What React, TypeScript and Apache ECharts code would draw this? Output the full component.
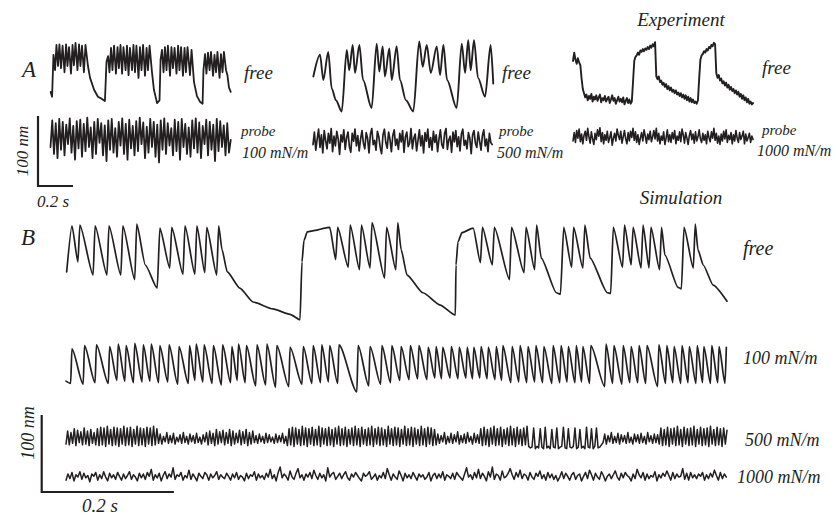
import { useEffect, useRef } from "react";
import * as echarts from "echarts";

const INK = "#231f20";
const SERIF = '"Liberation Serif", "Times New Roman", serif';

// Scales of the two panels: pixels per millisecond and pixels per nanometre
const A_SCALE = { pxPerMs: 0.175, pxPerNm: 0.7 };
const B_SCALE = { pxPerMs: 0.661, pxPerNm: 0.77 };

// ---------- Panel A: experiment (time ms, displacement nm) ----------
const A_FREE_LEFT = [
  [1, 23], [9, 16], [17, 76], [26, 54], [34, 90], [43, 60], [51, 91], [60, 57], [69, 89], [80, 51],
  [89, 91], [97, 60], [106, 87], [117, 49], [126, 90], [134, 61], [143, 93], [154, 54], [163, 91],
  [171, 60], [180, 89], [191, 51], [200, 90], [214, 60], [226, 43], [249, 26], [271, 16], [294, 13],
  [311, 10], [320, 66], [329, 74], [337, 51], [346, 86], [354, 54], [363, 89], [374, 49], [383, 87],
  [391, 57], [400, 90], [409, 49], [417, 87], [429, 54], [437, 89], [446, 47], [454, 86], [466, 54],
  [474, 90], [483, 51], [491, 89], [503, 43], [511, 87], [520, 54], [529, 90], [540, 46], [549, 86],
  [557, 54], [566, 89], [580, 51], [591, 26], [609, 7], [623, 11], [629, 69], [637, 83], [646, 51],
  [654, 87], [663, 54], [671, 89], [683, 46], [691, 87], [700, 57], [709, 86], [720, 49], [729, 89],
  [737, 54], [746, 87], [757, 46], [766, 86], [774, 51], [783, 87], [797, 47], [806, 83], [820, 37],
  [837, 17], [854, 9], [869, 6], [874, 54], [883, 77], [891, 49], [900, 79], [909, 54], [917, 80],
  [929, 46], [937, 76], [946, 51], [954, 80], [966, 43], [974, 77], [983, 51], [991, 80], [1003, 54],
  [1011, 47], [1020, 29], [1030, 23],
];

// probe of 100 mN/m, sampled every 10 ms
const A_PROBE_100_STEP = 10;
const A_PROBE_100 = [
  30, 68, 20, 64, 14, 70, 26, 66, 18, 62, 34, 71, 22,
  60, 12, 67, 28, 69, 16, 63, 24, 72, 30, 58, 14, 66,
  20, 70, 36, 64, 18, 61, 10, 68, 26, 70, 22, 57, 16,
  66, 32, 71, 20, 63, 12, 69, 28, 60, 18, 67, 24, 72,
  34, 65, 14, 59, 22, 70, 30, 66, 16, 62, 8, 68, 26,
  71, 20, 64, 32, 57, 18, 69, 24, 66, 12, 70, 30, 63,
  20, 58, 16, 68, 28, 71, 22, 65, 14, 60, 34, 69, 18,
  66, 26, 62, 10, 70, 24, 67, 30, 61, 18, 64, 22, 40,
];

const A_FREE_MID = [
  [2, 55], [40, 86], [59, 50], [87, 90], [107, 38], [131, 21], [164, 5], [193, 93], [207, 64],
  [227, 100], [240, 60], [265, 100], [286, 50], [335, 10], [364, 102], [379, 62], [398, 98],
  [411, 55], [436, 95], [450, 50], [478, 98], [497, 50], [531, 21], [573, 5], [607, 105], [627, 69],
  [650, 100], [673, 60], [707, 98], [726, 57], [745, 100], [766, 50], [821, 10], [850, 102],
  [869, 60], [887, 107], [901, 64], [920, 107], [943, 53], [983, 26], [1015, 100], [1030, 45],
];

// probe of 500 mN/m, sampled every 8 ms
const A_PROBE_500_STEP = 8;
const A_PROBE_500 = [
  22, 40, 14, 30, 44, 18, 36, 10, 42, 28, 16, 38, 24, 45, 12, 34,
  20, 41, 30, 8, 36, 26, 43, 15, 32, 40, 19, 11, 38, 27, 44, 20,
  35, 13, 30, 42, 24, 16, 39, 31, 10, 37, 45, 22, 28, 14, 41, 33,
  18, 9, 36, 44, 25, 17, 40, 29, 12, 35, 43, 21, 30, 15, 38, 26,
  42, 11, 33, 40, 19, 24, 45, 16, 31, 37, 13, 28, 43, 20, 35, 10,
  39, 27, 44, 18, 32, 14, 41, 25, 36, 12, 30, 43, 22, 17, 38, 45,
  15, 29, 34, 11, 40, 26, 42, 19, 33, 13, 37, 44, 21, 28, 16, 39,
  31, 9, 36, 42, 24, 18, 40, 27, 14, 35, 43, 20, 30, 12, 38, 25,
  22,
];

// free bundle on the right, sampled every 7 ms
const A_FREE_RIGHT_STEP = 7;
const A_FREE_RIGHT = [
  70, 82, 72, 66, 74, 68, 64,
  45, 30,
  24, 18, 22, 14, 20, 16, 23, 12, 19, 15, 21, 13, 18, 22, 11, 17, 14, 20, 12, 16,
  19, 10, 15, 21, 13, 17, 9, 14, 19, 12, 16, 11, 18, 8, 13, 17, 10, 15, 9, 12,
  40, 70, 76,
  78, 82, 79, 85, 83, 87, 84, 88, 86, 90, 87, 92, 89, 94, 91, 97,
  48,
  44, 48, 40, 42, 36, 39, 33, 37, 30, 34, 28, 32, 26, 29, 24, 28, 22, 25, 20, 24,
  18, 22, 16, 21, 14, 19, 12, 17, 11, 15, 10,
  12, 9, 14,
  45, 72, 78,
  80, 84, 82, 87, 85, 90, 88, 93, 91, 96, 94,
  52,
  46, 50, 42, 45, 38, 41, 35, 39, 32, 36, 29, 33, 27, 30, 24, 28, 22, 26, 19, 23,
  16, 21, 14, 18, 11, 16, 9, 12, 8, 10,
];

// probe of 1000 mN/m, sampled every 7 ms
const A_PROBE_1000_STEP = 7;
const A_PROBE_1000 = [
  10, 22, 8, 25, 14, 27, 9, 20, 6, 18, 24, 11, 28, 16, 7, 23,
  13, 5, 21, 12, 26, 17, 29, 9, 22, 6, 19, 11, 24, 8, 15, 23,
  4, 14, 21, 10, 27, 18, 12, 24, 7, 16, 25, 13, 6, 22, 10, 24,
  15, 28, 11, 23, 8, 19, 5, 14, 22, 10, 26, 17, 7, 20, 12, 24,
  9, 16, 25, 13, 28, 10, 21, 6, 17, 11, 23, 5, 14, 26, 9, 19,
  8, 22, 13, 25, 6, 17, 11, 23, 9, 27, 19, 7, 22, 14, 5, 18,
  25, 12, 20, 7, 23, 10, 16, 26, 13, 8, 21, 11, 19, 6, 24, 15,
  9, 23, 14, 28, 11, 21, 7, 17, 5, 20, 10, 24, 13, 26, 8, 18,
  12, 22, 6, 19, 10, 25, 14, 8, 22, 12, 17, 24, 6, 20, 10, 15,
  21, 8, 17, 12,
];

// ---------- Panel B: simulation (time ms, displacement nm) ----------
const B_FREE = [
  [1, 65], [9, 125], [18, 78], [21, 126], [41, 61], [44, 125], [62, 61], [65, 125], [83, 61],
  [86, 125], [104, 55], [107, 127], [120, 74], [138, 44], [142, 122], [157, 70], [160, 123],
  [177, 62], [180, 125], [195, 62], [198, 125], [210, 64], [213, 123], [228, 61], [231, 125],
  [236, 94], [244, 65], [263, 44], [283, 26], [313, 17], [339, 10], [354, 3], [357, 78], [360, 106],
  [365, 117], [377, 119], [392, 122], [399, 123], [408, 81], [411, 123], [427, 71], [430, 126],
  [444, 68], [447, 126], [460, 70], [463, 129], [482, 57], [485, 123], [499, 68], [502, 129],
  [507, 94], [516, 61], [540, 38], [566, 22], [589, 9], [590, 74], [593, 104], [599, 116],
  [616, 122], [627, 77], [630, 123], [645, 74], [648, 123], [671, 55], [674, 123], [693, 64],
  [696, 123], [709, 68], [712, 126], [719, 83], [742, 38], [748, 36], [753, 123], [765, 71],
  [768, 123], [782, 70], [785, 126], [793, 83], [819, 38], [824, 37], [828, 123], [842, 71],
  [845, 126], [855, 74], [858, 123], [870, 70], [873, 126], [882, 70], [885, 123], [898, 68],
  [901, 123], [906, 87], [926, 45], [931, 43], [935, 123], [949, 70], [952, 127], [956, 94],
  [964, 74], [979, 48], [1000, 27],
];

const B_100 = [
  [0, 18], [7, 15], [9, 60], [26, 14], [28, 64], [44, 16], [46, 65], [64, 15], [66, 63], [77, 19],
  [79, 66], [89, 18], [91, 64], [102, 16], [104, 67], [115, 17], [117, 65], [127, 18], [129, 66],
  [140, 16], [142, 64], [154, 17], [156, 65], [169, 14], [171, 63], [185, 15], [187, 64], [195, 19],
  [197, 66], [207, 17], [209, 65], [221, 15], [223, 64], [235, 13], [237, 65], [249, 16], [251, 63],
  [259, 19], [261, 66], [271, 16], [273, 64], [287, 12], [289, 65], [302, 13], [304, 66], [317, 10],
  [319, 64], [337, 11], [339, 62], [357, 14], [359, 63], [372, 15], [374, 64], [385, 16], [387, 65],
  [397, 17], [399, 64], [411, 15], [413, 65], [440, 4], [442, 64], [458, 12], [460, 63], [476, 14],
  [478, 64], [491, 16], [493, 64], [505, 19], [507, 63], [519, 20], [521, 64], [532, 21], [534, 64],
  [546, 20], [548, 62], [558, 22], [560, 63], [568, 21], [570, 62], [581, 22], [583, 63], [593, 21],
  [595, 62], [605, 22], [607, 62], [615, 21], [617, 62], [626, 22], [628, 63], [637, 21], [639, 62],
  [649, 20], [651, 63], [659, 19], [661, 64], [673, 16], [675, 63], [685, 17], [687, 64], [697, 16],
  [699, 63], [709, 17], [711, 64], [721, 16], [723, 63], [735, 15], [737, 64], [747, 16], [749, 64],
  [758, 17], [760, 63], [770, 16], [772, 64], [780, 17], [782, 63], [792, 15], [794, 64], [815, 11],
  [817, 66], [827, 15], [829, 64], [841, 14], [843, 64], [853, 16], [855, 63], [865, 16], [867, 64],
  [877, 15], [879, 64], [895, 11], [897, 65], [907, 15], [909, 64], [918, 16], [920, 63], [930, 15],
  [932, 64], [941, 16], [943, 63], [953, 15], [955, 64], [963, 16], [965, 63], [975, 15], [977, 64],
  [986, 16], [988, 63], [997, 15], [999, 62],
];

// probe of 500 mN/m, sampled every 2.5 ms
const B_500_STEP = 2.5;
const B_500 = [
  9, 26, 8, 24, 10, 29, 7, 27, 11, 25, 8, 30, 9, 26, 7, 28, 10, 24, 8,
  29, 7, 31, 8, 30, 6, 32, 9, 28, 7, 31, 8, 30, 6, 29, 9, 32, 7, 30, 8, 31, 6, 28, 9, 32, 7, 30, 8, 29, 6, 31, 9, 30, 7, 32, 8, 29,
  10, 22, 9, 19, 12, 24, 10, 20, 11, 23, 9, 18, 12, 21, 10, 24, 11, 19, 9, 22, 12, 20, 10, 23, 11, 18, 9, 21, 12, 24,
  8, 26, 10, 23, 7, 28, 9, 25, 11, 27, 8, 24, 10, 28, 7, 26, 9, 23, 11, 27, 8, 25, 10, 28, 7, 24, 9, 26,
  11, 20, 10, 22, 12, 19, 10, 23, 11, 21, 12, 18, 10, 22, 11, 20, 12, 23, 10, 19,
  7, 29, 8, 31, 6, 30, 9, 28, 7, 32,
  8, 30, 6, 29, 9, 31, 7, 28, 8, 32,
  6, 30, 9, 29, 7, 31, 8, 28, 6, 30,
  9, 32, 7, 29, 8, 31, 6, 28, 9, 30,
  7, 32, 8, 29, 6, 31, 9, 28, 7, 30,
  8, 32, 6, 29, 9, 31, 7, 30, 8, 28,
  6, 32, 9, 29, 7, 31, 8, 30, 6, 28,
  9, 32, 7, 29, 8, 31, 6, 30, 9, 28,
  7, 32, 8, 29, 6, 31, 9, 30, 7, 28,
  8,
  22, 10, 20, 12, 24, 9, 19, 11, 23, 10, 21, 12, 25, 9, 20, 11, 22, 10, 24, 12, 19, 9, 23, 11, 21, 10,
  29, 7, 31, 8, 28, 6, 30, 9, 32, 7, 29, 8, 31, 6, 28, 9, 30, 7, 32, 8, 29, 6, 31, 9, 28, 7, 30, 8, 32, 6,
  4, 5, 30, 3, 6, 4, 29, 5, 3, 31, 4, 6, 3, 28, 5, 4, 30, 3, 5, 6, 31, 4, 3, 29, 5, 4, 6, 30, 3, 5,
  28, 4, 6, 3, 31, 5, 4, 29, 3, 6, 30, 4, 5, 8,
  11, 22, 9, 20, 12, 24, 10, 19, 11, 23, 9, 21, 12, 20, 10, 24, 11, 18, 9, 22, 12, 21, 10, 23, 11,
  19, 9, 24, 12, 20, 10, 22, 11, 21, 9,
  30, 7, 28, 8, 31, 6, 29, 9, 30, 7, 32, 8, 28, 6, 31, 9, 29, 7, 30, 8, 32, 6, 28, 9, 31, 7, 29, 8,
  30, 6, 32, 9, 28, 7, 31, 8, 29, 6, 30, 9, 27,
];

// probe of 1000 mN/m, sampled every 3 ms
const B_1000_STEP = 3;
const B_1000 = [
  5, 13, 7, 15, 4, 12, 9, 16, 6, 14, 8, 11, 3, 13, 10, 15, 5, 12, 7, 16,
  9, 4, 14, 8, 12, 6, 15, 10, 5, 13, 7, 11, 16, 6, 12, 9, 4, 14, 8, 13,
  6, 15, 10, 19, 5, 12, 8, 14, 4, 11, 16, 7, 13, 9, 21, 6, 12, 10, 15, 5,
  11, 8, 18, 6, 13, 9, 4, 14, 10, 7, 15, 12, 5, 13, 8, 11, 16, 6, 12, 9,
  7, 14, 10, 5, 13, 8, 15, 6, 11, 9, 4, 14, 7, 12, 10, 16, 5, 13, 8, 11,
  6, 14, 9, 19, 7, 12, 4, 15, 22, 8, 13, 10, 5, 17, 9, 6, 14, 20, 8, 12,
  5, 13, 9, 15, 7, 18, 11, 6, 14, 8, 12, 4, 21, 9, 13, 15, 6, 10, 14, 7,
  12, 16, 8, 5, 13, 9, 15, 11, 7, 4, 14, 10, 12, 16, 6, 9, 13, 5, 11, 8,
  15, 7, 20, 12, 5, 13, 9, 6, 17, 11, 4, 14, 8, 12, 7, 15, 10, 5, 13, 9,
  12, 6, 9, 15, 4, 11, 14, 7, 13, 8, 16, 5, 12, 10, 7, 14, 6, 15, 11, 8,
  5, 13, 21, 9, 12, 6, 15, 8, 19, 7, 14, 10, 4, 16, 9, 22, 6, 13, 11, 5,
  17, 8, 10, 14, 20, 12, 6, 15, 9, 18, 7, 13, 11, 5, 15, 9, 6, 14, 10, 17,
  7, 12, 5, 15, 8, 13, 6, 11, 4, 9, 16, 7, 14, 10, 5, 12, 15, 6, 11, 13,
  4, 10, 15, 7, 18, 12, 5, 14, 9, 6, 16, 11, 4, 10, 13, 7, 12, 17, 9, 5,
  14, 8, 15, 11, 9, 4, 13, 7, 19, 12, 8, 15, 5, 13, 7, 11, 9, 16, 4, 12,
  8, 14, 10, 17, 11, 5, 15, 7, 13, 9, 10, 20, 6, 14, 5, 15, 8, 12, 7, 13,
  10, 15, 5, 12, 7, 14, 9, 18, 11, 5, 15, 7, 13, 9,
];

// Scale bars
const SCALE_BAR_NM = 100;
const SCALE_BAR_MS = 200;

const sampled = (values: number[], stepMs: number) => values.map((v, i) => [i * stepMs, v]);

type Scale = { pxPerMs: number; pxPerNm: number };
type Trace = {
  data: number[][];
  scale: Scale;
  left: number;
  baseline: number;
  yMax: number;
  durationMs: number;
  lineWidth: number;
  smooth?: number;
};

const TRACES: Trace[] = [
  { data: A_FREE_LEFT, scale: A_SCALE, left: 50.5, baseline: 108, yMax: 100, durationMs: 1030, lineWidth: 1.8 },
  { data: sampled(A_PROBE_100, A_PROBE_100_STEP), scale: A_SCALE, left: 50.5, baseline: 168, yMax: 80, durationMs: 1030, lineWidth: 1.8 },
  { data: A_FREE_MID, scale: A_SCALE, left: 313, baseline: 115, yMax: 110, durationMs: 1030, lineWidth: 1.9, smooth: 0.3 },
  { data: sampled(A_PROBE_500, A_PROBE_500_STEP), scale: A_SCALE, left: 313, baseline: 160, yMax: 50, durationMs: 1030, lineWidth: 1.7 },
  { data: sampled(A_FREE_RIGHT, A_FREE_RIGHT_STEP), scale: A_SCALE, left: 573, baseline: 110, yMax: 100, durationMs: 1030, lineWidth: 1.9 },
  { data: sampled(A_PROBE_1000, A_PROBE_1000_STEP), scale: A_SCALE, left: 573, baseline: 148, yMax: 30, durationMs: 1030, lineWidth: 1.6 },
  { data: B_FREE, scale: B_SCALE, left: 66, baseline: 322, yMax: 135, durationMs: 1000, lineWidth: 1.7, smooth: 0.2 },
  { data: B_100, scale: B_SCALE, left: 66, baseline: 395, yMax: 75, durationMs: 1000, lineWidth: 1.7, smooth: 0.25 },
  { data: sampled(B_500, B_500_STEP), scale: B_SCALE, left: 66, baseline: 451, yMax: 35, durationMs: 1000, lineWidth: 1.5 },
  { data: sampled(B_1000, B_1000_STEP), scale: B_SCALE, left: 66, baseline: 484, yMax: 22, durationMs: 1000, lineWidth: 1.5 },
];

type Label = { text: string; x: number; y: number; size: number; align?: string; vertical?: boolean };

const LABELS: Label[] = [
  { text: "Experiment", x: 681, y: 19, size: 19, align: "center" },
  { text: "A", x: 29, y: 69, size: 23, align: "center" },
  { text: "free", x: 244, y: 72, size: 19 },
  { text: "probe", x: 241, y: 131, size: 15 },
  { text: "100 mN/m", x: 242, y: 152, size: 16 },
  { text: "free", x: 502, y: 72, size: 19 },
  { text: "probe", x: 499, y: 131, size: 15 },
  { text: "500 mN/m", x: 497, y: 152, size: 16 },
  { text: "free", x: 762, y: 67, size: 19 },
  { text: "probe", x: 762, y: 130, size: 15 },
  { text: "1000 mN/m", x: 757, y: 150, size: 16 },
  { text: "100 nm", x: 22, y: 151, size: 17, align: "center", vertical: true },
  { text: "0.2 s", x: 37, y: 201, size: 17 },
  { text: "Simulation", x: 681, y: 197, size: 19, align: "center" },
  { text: "B", x: 28, y: 237, size: 23, align: "center" },
  { text: "free", x: 743, y: 248, size: 20 },
  { text: "100 mN/m", x: 743, y: 358, size: 18 },
  { text: "500 mN/m", x: 745, y: 440, size: 18 },
  { text: "1000 mN/m", x: 737, y: 477, size: 18 },
  { text: "100 nm", x: 28, y: 433, size: 18, align: "center", vertical: true },
  { text: "0.2 s", x: 82, y: 505, size: 19 },
];

// Corner of each L-shaped scale bar
const SCALE_BARS = [
  { scale: A_SCALE, x: 38, y: 186 },
  { scale: B_SCALE, x: 41.7, y: 492 },
];

function buildOption() {
  const grid = TRACES.map((t) => ({
    left: t.left,
    top: t.baseline - t.yMax * t.scale.pxPerNm,
    width: t.durationMs * t.scale.pxPerMs,
    height: t.yMax * t.scale.pxPerNm,
  }));
  const xAxis = TRACES.map((t, i) => ({
    type: "value",
    gridIndex: i,
    min: 0,
    max: t.durationMs,
    show: false,
  }));
  const yAxis = TRACES.map((t, i) => ({
    type: "value",
    gridIndex: i,
    min: 0,
    max: t.yMax,
    show: false,
  }));
  const series = TRACES.map((t, i) => ({
    type: "line",
    xAxisIndex: i,
    yAxisIndex: i,
    data: t.data,
    symbol: "none",
    showSymbol: false,
    clip: false,
    silent: true,
    smooth: t.smooth ?? false,
    smoothMonotone: "x",
    emphasis: { disabled: true },
    lineStyle: { color: INK, width: t.lineWidth, join: "round", cap: "round" },
  }));

  const texts = LABELS.map((l) => ({
    type: "text",
    x: l.x,
    y: l.y,
    rotation: l.vertical ? Math.PI / 2 : 0,
    silent: true,
    style: {
      text: l.text,
      fill: INK,
      font: `italic ${l.size}px ${SERIF}`,
      textAlign: l.align ?? "left",
      textVerticalAlign: "middle",
      align: l.align ?? "left",
      verticalAlign: "middle",
    },
  }));

  const bars = SCALE_BARS.map((b) => ({
    type: "polyline",
    silent: true,
    shape: {
      points: [
        [b.x, b.y - SCALE_BAR_NM * b.scale.pxPerNm],
        [b.x, b.y],
        [b.x + SCALE_BAR_MS * b.scale.pxPerMs, b.y],
      ],
    },
    style: { stroke: INK, lineWidth: 2.2, fill: null },
  }));

  return {
    animation: false,
    backgroundColor: "#ffffff",
    tooltip: { show: false },
    grid,
    xAxis,
    yAxis,
    series,
    graphic: { elements: [...bars, ...texts] },
  };
}

export default function App() {
  const ref = useRef<HTMLDivElement>(null);
  useEffect(() => {
    if (!ref.current) return;
    const chart = echarts.init(ref.current, null, { renderer: "svg" });
    chart.setOption(buildOption() as any);
    return () => chart.dispose();
  }, []);
  return (
    <div
      ref={ref}
      style={{ position: "absolute", left: 0, top: 0, width: 840, height: 518, background: "#fff" }}
    />
  );
}
